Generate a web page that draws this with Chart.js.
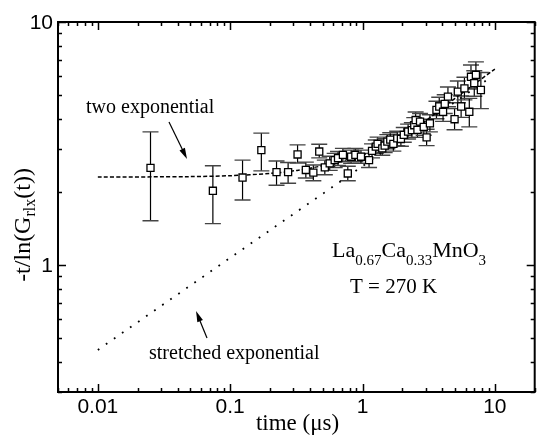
<!DOCTYPE html>
<html>
<head>
<meta charset="utf-8">
<script src="https://cdn.jsdelivr.net/npm/chart.js@4/dist/chart.umd.min.js"></script>
<style>
html,body{margin:0;padding:0;background:#fff;overflow:hidden;}
#wrap{position:relative;width:541px;height:436px;}
</style>
</head>
<body>
<div id="wrap"><canvas id="relax" width="541" height="436"></canvas></div>
<script>
var time    =[0.025,0.074,0.124,0.172,0.224,0.274,0.323,0.373,0.425,0.471,0.519,0.565,0.616,0.653,0.711,0.774,0.820,0.883,0.973,1.12,1.18,1.26,1.30,1.41,1.47,1.54,1.62,1.71,1.83,1.95,2.05,2.21,2.36,2.46,2.52,2.60,2.72,2.90,3.05,3.23,3.62,3.80,4.06,4.18,4.42,4.96,5.25,5.56,5.89,6.41,6.60,6.99,7.19,7.84];
var tau     =[2.51,2.02,2.29,2.97,2.41,2.41,2.85,2.46,2.40,2.93,2.52,2.62,2.70,2.75,2.84,2.38,2.79,2.84,2.79,2.70,2.95,3.07,3.15,3.02,3.10,3.22,3.28,3.15,3.32,3.30,3.43,3.54,3.59,3.76,3.95,3.60,3.89,3.70,3.35,3.83,4.35,4.49,4.27,4.60,4.93,3.98,5.17,4.49,5.33,4.27,5.95,5.60,6.06,5.25];
var tauLow  =[1.52,1.48,1.85,2.44,2.13,2.17,2.63,2.28,2.22,2.76,2.35,2.45,2.52,2.57,2.66,2.22,2.62,2.66,2.62,2.52,2.76,2.88,2.95,2.83,2.90,3.01,3.07,2.94,3.10,3.08,3.20,3.30,3.35,3.50,3.66,3.35,3.60,3.42,3.10,3.53,4.00,4.12,3.90,4.20,4.48,3.60,4.65,4.05,4.78,3.70,5.30,4.95,5.35,4.40];
var tauHigh =[3.53,2.56,2.70,3.49,2.68,2.64,3.12,2.65,2.58,3.14,2.70,2.80,2.88,2.93,3.02,2.55,2.97,3.02,2.97,2.88,3.15,3.27,3.36,3.22,3.31,3.44,3.50,3.37,3.55,3.53,3.68,3.80,3.85,4.04,4.26,3.86,4.20,3.98,3.62,4.15,4.72,4.90,4.66,5.02,5.40,4.40,5.72,4.96,5.92,4.85,6.65,6.30,6.85,6.20];

// fitted curves
var twoExpTime=[0.01,0.05,0.1,0.2,0.32,0.53,0.89,1.4,2.5,5,10];
var twoExpTau =[2.30,2.31,2.33,2.38,2.45,2.58,2.78,3.05,3.65,4.85,6.4];
var strExpTime=[0.01,0.1,1,9];
var strExpTau =[0.447,1.07,2.55,5.85];

var xTickLabels=[0.01,0.1,1,10];
var yTickLabels=[1,10];

var serif='"Liberation Serif","Times New Roman",serif';
var sans='"Liberation Sans",Arial,sans-serif';

function richText(ctx,parts,x,y,size,subSize,subShift){
    var cx=x;
    for(var i=0;i<parts.length;i++){
        var sub=parts[i][1];
        ctx.font=(sub?subSize:size)+'px '+serif;
        ctx.fillText(parts[i][0],cx,sub?y+subShift:y);
        cx+=ctx.measureText(parts[i][0]).width;
    }
    return cx-x;
}
function richWidth(ctx,parts,size,subSize){
    var w=0;
    for(var i=0;i<parts.length;i++){
        ctx.font=(parts[i][1]?subSize:size)+'px '+serif;
        w+=ctx.measureText(parts[i][0]).width;
    }
    return w;
}
function arrow(ctx,x1,y1,x2,y2){
    var a=Math.atan2(y2-y1,x2-x1), L=11, W=3;
    ctx.beginPath();ctx.moveTo(x1,y1);ctx.lineTo(x2-Math.cos(a)*L*0.8,y2-Math.sin(a)*L*0.8);ctx.stroke();
    ctx.beginPath();
    ctx.moveTo(x2,y2);
    ctx.lineTo(x2-Math.cos(a)*L+Math.sin(a)*W,y2-Math.sin(a)*L-Math.cos(a)*W);
    ctx.lineTo(x2-Math.cos(a)*L-Math.sin(a)*W,y2-Math.sin(a)*L+Math.cos(a)*W);
    ctx.closePath();ctx.fill();
}

var errorBars={
    id:'errorBars',
    beforeDatasetsDraw:function(chart){
        var ctx=chart.ctx, xs=chart.scales.x, ys=chart.scales.y;
        ctx.save();
        for(var i=0;i<time.length;i++){
            var px=xs.getPixelForValue(time[i]);
            var t=ys.getPixelForValue(tauHigh[i]), b=ys.getPixelForValue(tauLow[i]);
            ctx.strokeStyle='#000';
            ctx.lineWidth=1.2;
            ctx.beginPath();
            ctx.moveTo(px,t);ctx.lineTo(px,b);
            ctx.stroke();
            ctx.strokeStyle='#444';
            ctx.lineWidth=1.4;
            ctx.beginPath();
            ctx.moveTo(px-8,t);ctx.lineTo(px+8,t);
            ctx.moveTo(px-8,b);ctx.lineTo(px+8,b);
            ctx.stroke();
        }
        ctx.restore();
    }
};

var frame={
    id:'frame',
    afterDraw:function(chart){
        var ctx=chart.ctx, a=chart.chartArea, xs=chart.scales.x, ys=chart.scales.y;
        ctx.save();
        ctx.strokeStyle='#000';
        ctx.lineWidth=2;
        ctx.strokeRect(a.left,a.top,a.right-a.left,a.bottom-a.top);
        ctx.lineWidth=1.5;
        var d,m,v,p,len;
        ctx.beginPath();
        for(d=0.001;d<100;d*=10){
            for(m=1;m<10;m++){
                v=m*d;
                len=(m==1)?8:4;
                if(v>=xs.min*0.999&&v<=xs.max*1.001){
                    p=Math.round(xs.getPixelForValue(v))+0.5;
                    ctx.moveTo(p,a.bottom);ctx.lineTo(p,a.bottom-len);
                    ctx.moveTo(p,a.top);ctx.lineTo(p,a.top+len);
                }
                if(v>=ys.min*0.999&&v<=ys.max*1.001){
                    p=Math.round(ys.getPixelForValue(v))+0.5;
                    ctx.moveTo(a.left,p);ctx.lineTo(a.left+len,p);
                    ctx.moveTo(a.right,p);ctx.lineTo(a.right-len,p);
                }
            }
        }
        ctx.stroke();

        ctx.fillStyle='#000';
        ctx.font='21px '+sans;
        ctx.textAlign='center';ctx.textBaseline='middle';
        xTickLabels.forEach(function(t){
            ctx.fillText(String(t),xs.getPixelForValue(t),407);
        });
        ctx.textAlign='right';
        yTickLabels.forEach(function(t){
            ctx.fillText(String(t),a.left-5,ys.getPixelForValue(t)+1);
        });

        // axis titles
        ctx.textAlign='center';ctx.textBaseline='alphabetic';
        ctx.font='23px '+serif;
        ctx.fillText('time (\u03bcs)',297.5,430);

        ctx.textAlign='left';
        var yParts=[['-t/ln(G'],['rlx',1],['(t))']];
        var w=richWidth(ctx,yParts,24,16);
        ctx.save();
        ctx.translate(30,225);
        ctx.rotate(-Math.PI/2);
        richText(ctx,yParts,-w/2,0,24,16,5);
        ctx.restore();

        // annotations
        ctx.font='20px '+serif;
        ctx.fillText('two exponential',86,113);
        ctx.fillText('stretched exponential',149,359);
        richText(ctx,[['La'],['0.67',1],['Ca'],['0.33',1],['MnO'],['3',1]],332,257,22,15,8);
        ctx.font='21px '+serif;
        ctx.fillText('T = 270 K',350,293);

        ctx.lineWidth=1.2;
        arrow(ctx,169,122,187,159);
        arrow(ctx,207,338,196,311);
        ctx.restore();
    }
};

var ctx=document.getElementById('relax');
var chart=new Chart(ctx,{
    type:'scatter',
    data:{
        datasets:[{
            label:'data',
            data:time.map(function(t,i){return {x:t,y:tau[i]};}),
            pointStyle:'rect',
            pointRadius:5,
            pointBackgroundColor:'#fff',
            pointBorderColor:'#000',
            pointBorderWidth:1.3,
            showLine:false,
            order:0
        },{
            label:'two exponential',
            data:twoExpTime.map(function(t,i){return {x:t,y:twoExpTau[i]};}),
            showLine:true,
            pointRadius:0,
            borderColor:'#000',
            borderWidth:1.5,
            borderDash:[4,2.2],
            tension:0.3,
            order:1
        },{
            label:'stretched exponential',
            data:strExpTime.map(function(t,i){return {x:t,y:strExpTau[i]};}),
            showLine:true,
            pointRadius:0,
            borderColor:'#000',
            borderWidth:1.8,
            borderDash:[1.8,8],
            order:2
        }]
    },
    options:{
        responsive:false,
        devicePixelRatio:1,
        animation:false,
        layout:{padding:{left:58,top:22,right:0,bottom:44}},
        plugins:{legend:{display:false},tooltip:{enabled:false}},
        scales:{
            x:{type:'logarithmic',min:0.005,max:20,display:false},
            y:{type:'logarithmic',min:0.3,max:10,display:false}
        }
    },
    plugins:[errorBars,frame]
});
</script>
</body>
</html>
